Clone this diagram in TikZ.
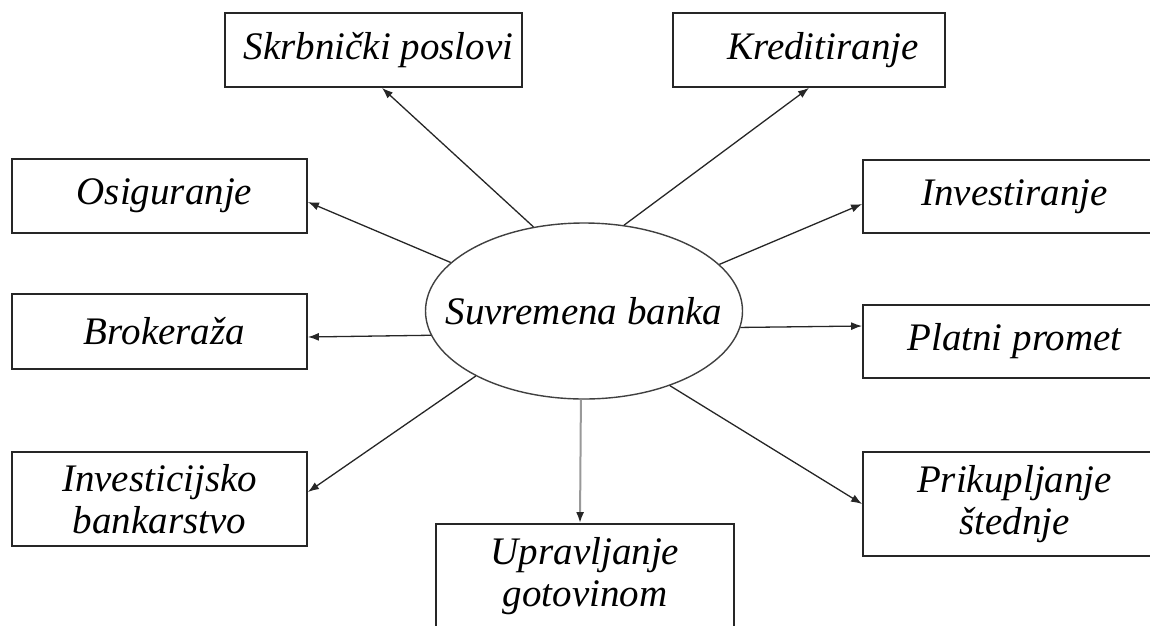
\documentclass[tikz,border=0pt]{standalone}
\usepackage{fontspec}
\setmainfont{Liberation Serif}
\usetikzlibrary{arrows.meta,shapes.geometric}
\begin{document}
\begin{tikzpicture}[x=1pt,y=-1pt,
  box/.style={draw=black!85, line width=1.8pt, rectangle, inner sep=0pt, align=center,
    font=\fontsize{39}{42}\selectfont\itshape},
  hub/.style={draw=black!75, line width=1.4pt, ellipse, inner sep=0pt,
    font=\fontsize{39}{42}\selectfont\itshape},
  conn/.style={draw=black!85, line width=1.3pt, -{Latex[length=11pt,width=8pt]}},
  grayconn/.style={draw=black!40, line width=2pt, -{Latex[length=11pt,width=8pt,color=black!85]}}
]
\useasboundingbox (0,0) rectangle (1150,625);
\clip (0,0) rectangle (1150,625);

\node[hub, minimum width=317pt, minimum height=176pt] (ell) at (584,311) {\makebox[0pt]{\raisebox{-3pt}{Suvremena banka}}};

\node[box, minimum width=297pt, minimum height=74pt] (skr) at (373.5,50) {\raisebox{-3pt}{\hspace*{10pt}Skrbnički poslovi}};
\node[box, minimum width=272pt, minimum height=74pt] (kred) at (809,50) {\raisebox{-3pt}{\hspace*{28pt}Kreditiranje}};
\node[box, minimum width=295pt, minimum height=74pt] (osig) at (159.5,196) {\hspace*{10pt}Osiguranje};
\node[box, minimum width=295pt, minimum height=75pt] (brok) at (159.5,331.5) {\hspace*{10pt}Brokeraža};
\node[box, minimum width=295pt, minimum height=94pt] (invb) at (159.5,499) {Investicijsko\\bankarstvo};
\node[box, minimum width=298pt, minimum height=104pt] (upr) at (585,576) {Upravljanje\\gotovinom};
\node[box, minimum width=303pt, minimum height=104pt] (prik) at (1014.5,504) {Prikupljanje\\štednje};
\node[box, minimum width=303pt, minimum height=73pt] (inv) at (1014.5,196.5) {Investiranje};
\node[box, minimum width=303pt, minimum height=73pt] (plat) at (1014.5,341.5) {Platni promet};

\draw[conn] (ell.121) -- ([xshift=8.5pt]skr.south);
\draw[conn] (ell.65) -- (kred.south);
\draw[conn] (ell.160) -- ([yshift=-6pt]osig.east);
\draw[conn] (ell.189) -- ([yshift=-5.5pt]brok.east);
\draw[conn] (ell.211) -- ([yshift=7pt]invb.east);
\draw[grayconn] (ell.268) -- ([xshift=-5pt]upr.north);
\draw[conn] (ell.319) -- (prik.west);
\draw[conn] (ell.19) -- ([yshift=-7.5pt]inv.west);
\draw[conn] (ell.354.6) -- ([yshift=15.5pt]plat.west);
\end{tikzpicture}
\end{document}
